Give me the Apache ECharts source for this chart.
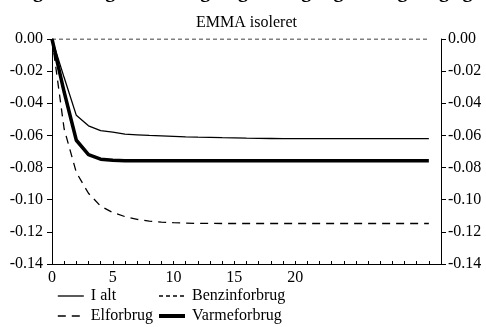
<!DOCTYPE html>
<html>
<head>
<meta charset="utf-8">
<script src="https://cdn.jsdelivr.net/npm/echarts@6/dist/echarts.min.js"></script>
<style>html,body{margin:0;padding:0;background:#fff;}#c{width:486px;height:327px;}</style>
</head>
<body>
<div id="c"></div>
<script>
var years = [];
for (var i = 0; i <= 31; i++) years.push(i);
var xTickLabels = [0, 5, 10, 15, 20];
var yTicks = [0, -0.02, -0.04, -0.06, -0.08, -0.10, -0.12, -0.14];

var iAlt = [0, -0.024, -0.0475, -0.054, -0.057, -0.058, -0.0592, -0.0596, -0.060, -0.0603, -0.0606, -0.0609, -0.0611, -0.0612, -0.0614, -0.0615, -0.0617, -0.0618, -0.0619, -0.062, -0.062, -0.062, -0.062, -0.062, -0.062, -0.062, -0.062, -0.062, -0.062, -0.062, -0.062, -0.062];
var benzin = [0, 0, 0, 0, 0, 0, 0, 0, 0, 0, 0, 0, 0, 0, 0, 0, 0, 0, 0, 0, 0, 0, 0, 0, 0, 0, 0, 0, 0, 0, 0, 0];
var elforbrug = [0, -0.056, -0.083, -0.096, -0.104, -0.108, -0.1105, -0.1122, -0.1133, -0.1139, -0.1143, -0.1146, -0.1147, -0.1147, -0.1148, -0.1148, -0.1148, -0.1148, -0.1148, -0.1148, -0.1148, -0.1148, -0.1148, -0.1148, -0.1148, -0.1148, -0.1148, -0.1148, -0.1148, -0.1148, -0.1148, -0.1148];
var varme = [0, -0.033, -0.063, -0.072, -0.0748, -0.0755, -0.0757, -0.0757, -0.0757, -0.0757, -0.0757, -0.0757, -0.0757, -0.0757, -0.0757, -0.0757, -0.0757, -0.0757, -0.0757, -0.0757, -0.0757, -0.0757, -0.0757, -0.0757, -0.0757, -0.0757, -0.0757, -0.0757, -0.0757, -0.0757, -0.0757, -0.0757];

var seriesNames = ['I alt', 'Benzinforbrug', 'Elforbrug', 'Varmeforbrug'];

function pairs(arr) { return years.map(function (x, i) { return [x, arr[i]]; }); }

var font = 'Liberation Serif, Times New Roman, serif';
var chart = echarts.init(document.getElementById('c'), null, { renderer: 'canvas' });

var yAxisCommon = {
  type: 'value', min: -0.14, max: 0, interval: 0.02,
  axisLine: { show: true, lineStyle: { color: '#000', width: 1 } },
  axisTick: { show: true, length: 5, lineStyle: { color: '#000' } },
  splitLine: { show: false },
  axisLabel: { color: '#000', fontFamily: font, fontSize: 16, formatter: function (v) { return v.toFixed(2); } }
};

var legendCommon = {
  orient: 'vertical', top: 288, height: 60, padding: 0, itemGap: 4, itemWidth: 26, itemHeight: 14,
  itemStyle: { opacity: 0, borderWidth: 0 },
  textStyle: { color: '#000', fontFamily: font, fontSize: 16, lineHeight: 14, padding: [0, 0, 0, 2] }
};

chart.setOption({
  animation: false,
  backgroundColor: '#fff',
  textStyle: { fontFamily: font },
  graphic: [
    { type: 'text', left: 'center', top: -18, style: { text: 'Ændring i energiforbrug ved en stigning i energiafgiften og langsigtet tilpasning', font: 'bold 20px ' + font, fill: '#000' } },
    { type: 'text', x: 246.5, y: 23, style: { text: 'EMMA isoleret', font: '16px ' + font, fill: '#000', align: 'center', verticalAlign: 'middle' } }
  ],
  grid: { left: 52, right: 45, top: 39, bottom: 63, containLabel: false },
  legend: [
    Object.assign({ data: [
      { name: 'I alt', lineStyle: { width: 1.3 } },
      { name: 'Elforbrug', lineStyle: { width: 1.6 } }
    ], left: 57 }, legendCommon),
    Object.assign({ data: [
      { name: 'Benzinforbrug', lineStyle: { width: 1.3 } },
      { name: 'Varmeforbrug', lineStyle: { width: 4 } }
    ], left: 157 }, legendCommon)
  ],
  xAxis: {
    type: 'value', min: 0, max: 32, interval: 1,
    axisLine: { show: true, onZero: false, lineStyle: { color: '#000' } },
    axisTick: { show: true, inside: true, length: 3, lineStyle: { color: '#000' } },
    splitLine: { show: false },
    axisLabel: { color: '#000', fontFamily: font, fontSize: 16, margin: 6,
      formatter: function (v) { return xTickLabels.indexOf(v) >= 0 ? String(v) : ''; } }
  },
  yAxis: [
    Object.assign({}, yAxisCommon, { position: 'left', axisLabel: Object.assign({}, yAxisCommon.axisLabel, { margin: 9 }) }),
    Object.assign({}, yAxisCommon, { position: 'right', axisLabel: Object.assign({}, yAxisCommon.axisLabel, { margin: 7 }) })
  ],
  series: [
    { name: seriesNames[0], type: 'line', data: pairs(iAlt), symbol: 'none', lineStyle: { color: '#000', width: 1.3 }, itemStyle: { color: '#000' } },
    { name: seriesNames[1], type: 'line', data: pairs(benzin), symbol: 'none', lineStyle: { color: '#000', width: 1.2, type: [4, 3] }, itemStyle: { color: '#000' } },
    { name: seriesNames[2], type: 'line', data: pairs(elforbrug), symbol: 'none', lineStyle: { color: '#000', width: 1.3, type: [8, 6] }, itemStyle: { color: '#000' } },
    { name: seriesNames[3], type: 'line', data: pairs(varme), symbol: 'none', lineStyle: { color: '#000', width: 3.5 }, itemStyle: { color: '#000' } }
  ]
});
</script>
</body>
</html>
